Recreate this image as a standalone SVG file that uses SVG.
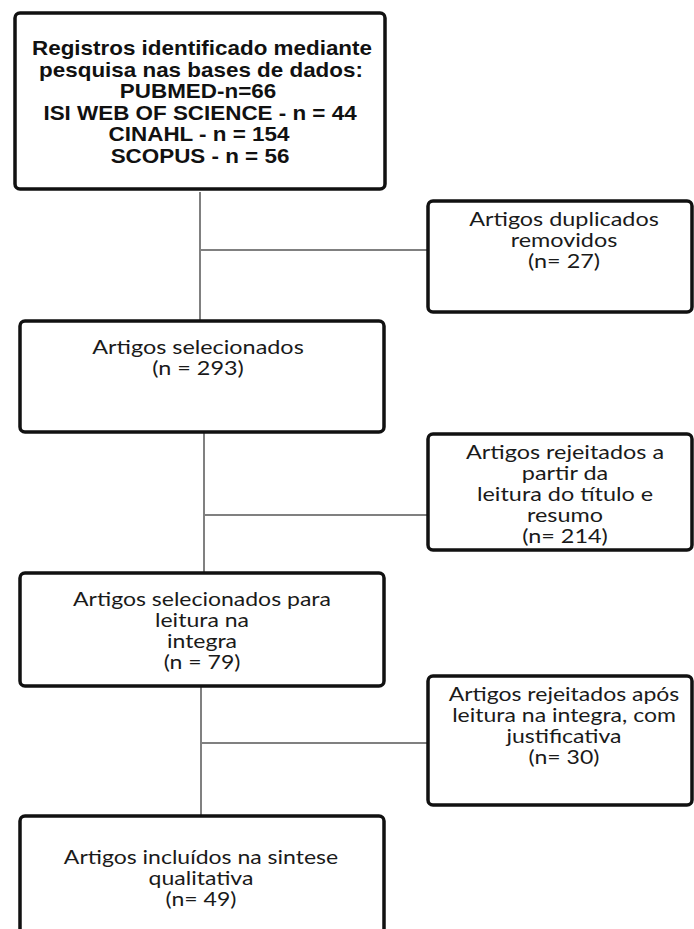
<svg xmlns="http://www.w3.org/2000/svg" width="694" height="929" viewBox="0 0 694 929">
<style>
.box{fill:#fff;stroke:#111;stroke-width:3.5}
.conn line{stroke:#808080;stroke-width:2}
.b{font-family:"Liberation Sans",Arial,sans-serif;font-weight:bold;font-size:19.5px;fill:#111;text-anchor:middle}
.t{font-family:Lato,"Open Sans",sans-serif;font-size:19.5px;fill:#1a1a1a;text-anchor:middle}
</style>
<rect width="694" height="929" fill="#fff"/>
<g id="connectors" class="conn">
<line x1="200" y1="192" x2="200" y2="320"/>
<line x1="200" y1="250" x2="428" y2="250"/>
<line x1="204" y1="433" x2="204" y2="572"/>
<line x1="204" y1="515" x2="428" y2="515"/>
<line x1="201" y1="687" x2="201" y2="815"/>
<line x1="201" y1="743" x2="428" y2="743"/>
</g>
<g id="n1">
<rect class="box" x="15" y="13" width="370" height="176" rx="5"/>
<text class="b" transform="translate(202,55) scale(1.15,1)">Registros identificado mediante</text>
<text class="b" transform="translate(201,77) scale(1.15,1)">pesquisa nas bases de dados:</text>
<text class="b" transform="translate(198,98) scale(1.15,1)">PUBMED-n=66</text>
<text class="b" transform="translate(200,120) scale(1.15,1)">ISI WEB OF SCIENCE - n = 44</text>
<text class="b" transform="translate(199,141) scale(1.15,1)">CINAHL - n = 154</text>
<text class="b" transform="translate(200,163) scale(1.15,1)">SCOPUS - n = 56</text>
</g>
<g id="n2">
<rect class="box" x="428" y="201" width="264" height="111" rx="5"/>
<text class="t" transform="translate(564,226) scale(1.2,1)">Artigos duplicados</text>
<text class="t" transform="translate(564,247) scale(1.2,1)">removidos</text>
<text class="t" transform="translate(564,268) scale(1.2,1)">(n= 27)</text>
</g>
<g id="n3">
<rect class="box" x="20" y="321" width="364" height="111" rx="5"/>
<text class="t" transform="translate(198,354) scale(1.2,1)">Artigos selecionados</text>
<text class="t" transform="translate(198,375) scale(1.2,1)">(n = 293)</text>
</g>
<g id="n4">
<rect class="box" x="428" y="434" width="264" height="116" rx="5"/>
<text class="t" transform="translate(565,459) scale(1.2,1)">Artigos rejeitados a</text>
<text class="t" transform="translate(565,480) scale(1.2,1)">partir da</text>
<text class="t" transform="translate(565,501) scale(1.2,1)">leitura do título e</text>
<text class="t" transform="translate(565,522) scale(1.2,1)">resumo</text>
<text class="t" transform="translate(565,543) scale(1.2,1)">(n= 214)</text>
</g>
<g id="n5">
<rect class="box" x="20" y="573" width="364" height="113" rx="5"/>
<text class="t" transform="translate(202,606) scale(1.18,1)">Artigos selecionados para</text>
<text class="t" transform="translate(202,627) scale(1.18,1)">leitura na</text>
<text class="t" transform="translate(202,648) scale(1.18,1)">integra</text>
<text class="t" transform="translate(202,669) scale(1.18,1)">(n = 79)</text>
</g>
<g id="n6">
<rect class="box" x="428" y="676" width="264" height="129" rx="5"/>
<text class="t" transform="translate(564,701) scale(1.18,1)">Artigos rejeitados após</text>
<text class="t" transform="translate(564,722) scale(1.18,1)">leitura na integra, com</text>
<text class="t" transform="translate(564,743) scale(1.18,1)">justificativa</text>
<text class="t" transform="translate(564,764) scale(1.18,1)">(n= 30)</text>
</g>
<g id="n7">
<rect class="box" x="20" y="816" width="364" height="130" rx="5"/>
<text class="t" transform="translate(201,864) scale(1.18,1)">Artigos incluídos na sintese</text>
<text class="t" transform="translate(201,885) scale(1.18,1)">qualitativa</text>
<text class="t" transform="translate(201,906) scale(1.18,1)">(n= 49)</text>
</g>
</svg>
